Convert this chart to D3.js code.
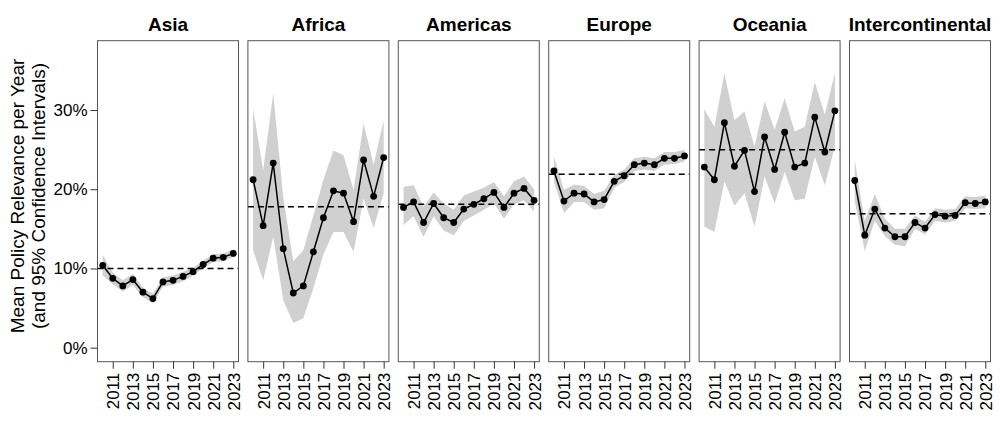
<!DOCTYPE html>
<html><head><meta charset="utf-8">
<script src="https://cdn.jsdelivr.net/npm/d3@7"></script>
<style>body{margin:0;background:#fff}svg{display:block;font-family:"Liberation Sans",Arial,sans-serif}</style>
</head><body>
<svg id="c" width="1000" height="421"></svg>
<script>
const years = [2010,2011,2012,2013,2014,2015,2016,2017,2018,2019,2020,2021,2022,2023];
const tickYears = [2011,2013,2015,2017,2019,2021,2023];
const yTicks = [0,10,20,30];
const regions = ["Asia","Africa","Americas","Europe","Oceania","Intercontinental"];

const asiaMean = [10.4, 8.75, 7.8, 8.6, 7.0, 6.2, 8.3, 8.5, 9.0, 9.6, 10.5, 11.3, 11.4, 11.9];
const asiaLo   = [9.1, 8.0, 7.1, 7.9, 6.4, 5.6, 7.7, 7.9, 8.4, 9.1, 10.0, 10.8, 10.9, 11.4];
const asiaHi   = [11.7, 9.5, 8.5, 9.3, 7.6, 6.8, 8.9, 9.1, 9.6, 10.1, 11.0, 11.8, 11.9, 12.4];

const africaMean = [21.2, 15.4, 23.3, 12.5, 6.9, 7.8, 12.1, 16.4, 19.8, 19.5, 15.9, 23.7, 19.1, 24.0];
const africaLo   = [12.3, 8.5, 14.0, 6.0, 3.1, 3.7, 7.5, 11.8, 14.6, 14.6, 12.1, 18.8, 15.1, 19.5];
const africaHi   = [30.2, 22.4, 32.1, 19.0, 10.9, 12.3, 16.7, 21.2, 24.9, 24.3, 19.9, 28.3, 23.1, 28.7];

const americasMean = [17.7, 18.4, 15.8, 18.2, 16.4, 15.8, 17.5, 18.1, 18.8, 19.6, 17.7, 19.5, 20.1, 18.6];
const americasLo   = [15.5, 16.6, 14.0, 16.6, 14.8, 14.2, 16.0, 16.7, 17.4, 18.2, 16.3, 18.1, 18.6, 17.2];
const americasHi   = [20.3, 20.5, 17.8, 19.6, 18.2, 17.4, 19.2, 19.7, 20.2, 20.9, 19.1, 21.0, 21.6, 20.0];

const europeMean = [22.3, 18.5, 19.5, 19.4, 18.4, 18.7, 21.0, 21.7, 23.1, 23.3, 23.1, 23.9, 23.9, 24.2];
const europeLo   = [20.9, 17.0, 18.4, 18.4, 17.4, 17.6, 20.2, 20.9, 22.3, 22.5, 22.3, 23.1, 23.2, 23.5];
const europeHi   = [24.2, 19.9, 20.6, 20.4, 19.4, 19.8, 21.8, 22.5, 23.9, 24.1, 23.9, 24.7, 24.7, 25.0];

const oceaniaMean = [22.8, 21.2, 28.4, 22.9, 24.9, 19.7, 26.6, 22.5, 27.2, 22.8, 23.3, 29.1, 24.7, 29.9];
const oceaniaLo   = [15.3, 14.6, 21.0, 17.9, 19.5, 15.3, 21.6, 18.2, 22.2, 18.6, 18.8, 24.1, 20.5, 25.4];
const oceaniaHi   = [30.1, 27.9, 34.6, 28.7, 29.8, 25.4, 31.1, 27.5, 31.5, 27.3, 27.9, 33.5, 29.4, 34.7];

const interMean = [21.1, 14.2, 17.5, 15.1, 14.0, 14.0, 15.8, 15.1, 16.8, 16.6, 16.7, 18.3, 18.2, 18.4];
const interLo   = [18.5, 12.2, 16.0, 14.1, 13.0, 12.8, 15.0, 14.3, 16.0, 15.8, 16.0, 17.6, 17.5, 17.6];
const interHi   = [23.7, 16.0, 19.4, 16.3, 15.0, 15.0, 16.7, 15.9, 17.6, 17.4, 17.5, 19.1, 19.0, 19.2];

const overallMeans = [10.0, 17.8, 18.1, 21.9, 25.0, 16.9];

const means = [asiaMean, africaMean, americasMean, europeMean, oceaniaMean, interMean];
const los = [asiaLo, africaLo, americasLo, europeLo, oceaniaLo, interLo];
const his = [asiaHi, africaHi, americasHi, europeHi, oceaniaHi, interHi];

(function(){
const svg = d3.select("#c");
const pTop = 40.7, pBottom = 361.7, pw = 141, step = 150.4, left0 = 97.5;
const y = d3.scaleLinear().domain([-1.77, 38.75]).range([pBottom, pTop]);

regions.forEach((name, i) => {
  const L = left0 + i*step;
  const x = d3.scaleLinear().domain([2009.48, 2023.52]).range([L, L+pw]);
  const g = svg.append("g");
  const rows = years.map((yr, k) => ({yr, m: means[i][k], lo: los[i][k], hi: his[i][k]}));

  g.append("path").datum(rows)
    .attr("fill", "#d0d0d0")
    .attr("d", d3.area().x(d => x(d.yr)).y0(d => y(d.lo)).y1(d => y(d.hi)));

  g.append("line")
    .attr("x1", L).attr("x2", L+pw)
    .attr("y1", y(overallMeans[i])).attr("y2", y(overallMeans[i]))
    .attr("stroke", "#000").attr("stroke-width", 1.5).attr("stroke-dasharray", "6,4");

  g.append("path").datum(rows)
    .attr("fill", "none").attr("stroke", "#000").attr("stroke-width", 1.5)
    .attr("d", d3.line().x(d => x(d.yr)).y(d => y(d.m)));

  g.selectAll("circle").data(rows).join("circle")
    .attr("cx", d => x(d.yr)).attr("cy", d => y(d.m)).attr("r", 3.4).attr("fill", "#000");

  g.append("rect").attr("x", L).attr("y", pTop).attr("width", pw).attr("height", pBottom-pTop)
    .attr("fill", "none").attr("stroke", "#555").attr("stroke-width", 1);

  const xa = g.append("g").attr("transform", `translate(0,${pBottom})`)
    .call(d3.axisBottom(x).tickValues(tickYears).tickFormat(d3.format("d")).tickSize(7).tickPadding(4));
  xa.select(".domain").remove();
  xa.selectAll("line").attr("stroke", "#333");
  xa.selectAll("text")
    .attr("font-size", 17).attr("fill", "#000")
    .attr("transform", "rotate(-90)")
    .attr("text-anchor", "end")
    .attr("x", -11).attr("y", 0).attr("dy", "0.35em");

  g.append("text").attr("x", L + pw/2).attr("y", 31)
    .attr("text-anchor", "middle").attr("font-size", 19).attr("font-weight", "bold")
    .text(name);

  if (i === 0) {
    const ya = g.append("g").attr("transform", `translate(${L},0)`)
      .call(d3.axisLeft(y).tickValues(yTicks).tickFormat(d => d + "%").tickSize(7).tickPadding(3));
    ya.select(".domain").remove();
    ya.selectAll("line").attr("stroke", "#333");
    ya.selectAll("text").attr("font-size", 17).attr("fill", "#000");
  }
});

const lab = svg.append("text").attr("transform", `translate(24,196) rotate(-90)`)
  .attr("text-anchor", "middle").attr("font-size", 19);
lab.append("tspan").attr("x", 0).attr("dy", 0).text("Mean Policy Relevance per Year");
lab.append("tspan").attr("x", 0).attr("dy", 21).text("(and 95% Confidence Intervals)");
})();
</script>
</body></html>
